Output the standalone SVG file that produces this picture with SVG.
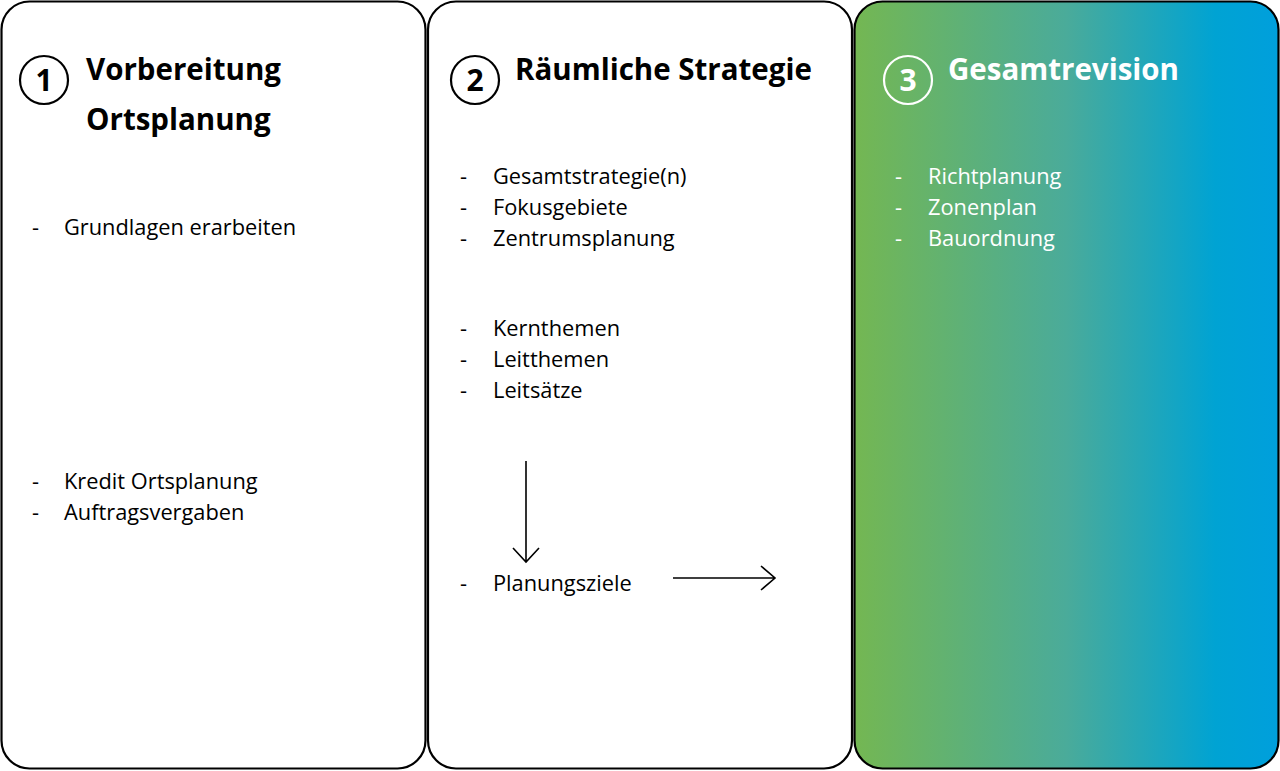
<svg xmlns="http://www.w3.org/2000/svg" width="1280" height="771" viewBox="0 0 1280 771">
<defs>
<linearGradient id="g3" x1="854" y1="0" x2="1279" y2="0" gradientUnits="userSpaceOnUse">
<stop offset="0" stop-color="#74b752"/>
<stop offset="0.5" stop-color="#4aab9a"/>
<stop offset="0.85" stop-color="#00a3d3"/>
<stop offset="1" stop-color="#009fdc"/>
</linearGradient>
<style>
.box{stroke:#000;stroke-width:2.2}
.t{font-family:"Open Sans","Noto Sans",sans-serif;font-weight:bold;font-size:29.5px}
.n{font-family:"Open Sans","Noto Sans",sans-serif;font-weight:bold;font-size:30px;text-anchor:middle}
.b{font-family:"Open Sans","Noto Sans",sans-serif;font-size:21.8px}
.c{fill:none;stroke-width:2.2}
.ln{fill:none;stroke:#000;stroke-width:1.6}
</style>
</defs>
<g id="node1">
<rect class="box" x="1.5" y="1.5" width="424" height="767" rx="28" fill="#fff"/>
<circle class="c" cx="44" cy="80" r="24" stroke="#000"/>
<text class="n" x="44" y="91">1</text>
<text class="t" x="86" y="80">Vorbereitung</text>
<text class="t" x="86" y="130">Ortsplanung</text>
<text class="b" x="32" y="235">-</text><text class="b" x="64" y="235">Grundlagen erarbeiten</text>
<text class="b" x="32" y="489">-</text><text class="b" x="64" y="489">Kredit Ortsplanung</text>
<text class="b" x="32" y="520">-</text><text class="b" x="64" y="520">Auftragsvergaben</text>
</g>
<g id="node2">
<rect class="box" x="428" y="1.5" width="424" height="767" rx="28" fill="#fff"/>
<circle class="c" cx="475" cy="80" r="24" stroke="#000"/>
<text class="n" x="475" y="91">2</text>
<text class="t" x="515" y="80">Räumliche Strategie</text>
<text class="b" x="460" y="184">-</text><text class="b" x="493" y="184">Gesamtstrategie(n)</text>
<text class="b" x="460" y="215">-</text><text class="b" x="493" y="215">Fokusgebiete</text>
<text class="b" x="460" y="246">-</text><text class="b" x="493" y="246">Zentrumsplanung</text>
<text class="b" x="460" y="336">-</text><text class="b" x="493" y="336">Kernthemen</text>
<text class="b" x="460" y="367">-</text><text class="b" x="493" y="367">Leitthemen</text>
<text class="b" x="460" y="398">-</text><text class="b" x="493" y="398">Leitsätze</text>
<text class="b" x="460" y="591">-</text><text class="b" x="493" y="591">Planungsziele</text>
</g>
<g id="node3">
<rect class="box" x="854.5" y="1.5" width="424" height="767" rx="28" fill="url(#g3)"/>
<circle class="c" cx="908" cy="80" r="24" stroke="#fff"/>
<text class="n" x="908" y="91" fill="#fff">3</text>
<text class="t" x="948" y="80" fill="#fff">Gesamtrevision</text>
<g fill="#fff">
<text class="b" x="895" y="184">-</text><text class="b" x="928" y="184">Richtplanung</text>
<text class="b" x="895" y="215">-</text><text class="b" x="928" y="215">Zonenplan</text>
<text class="b" x="895" y="246">-</text><text class="b" x="928" y="246">Bauordnung</text>
</g>
</g>
<g id="connectors">
<path class="ln" d="M526 461 V562 M513 548 L526 562 L539 548"/>
<path class="ln" d="M673 578 H775 M761 566 L775 578 L761 590"/>
</g>
</svg>
